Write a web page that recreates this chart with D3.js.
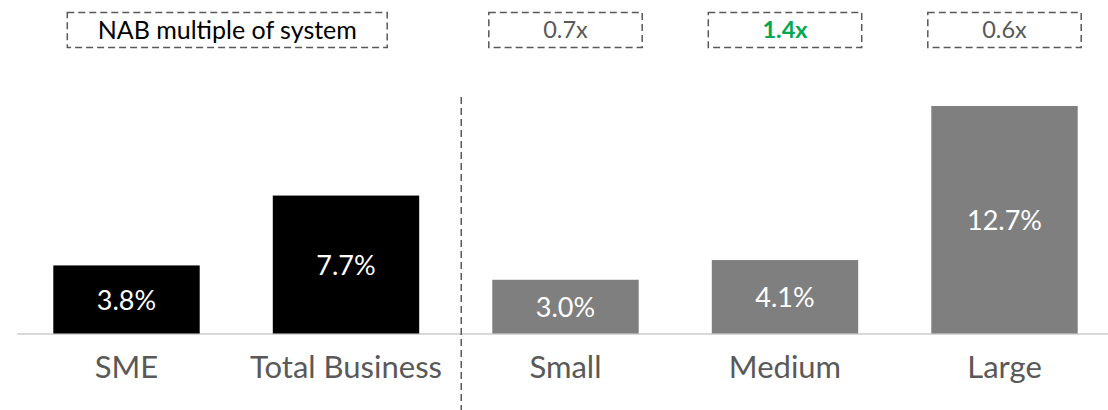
<!DOCTYPE html>
<html><head><meta charset="utf-8">
<script src="https://cdn.jsdelivr.net/npm/d3@7"></script>
<style>
html,body{margin:0;padding:0;background:#fff;}
svg{display:block;font-family:"Lato","Noto Sans",sans-serif;}
</style></head>
<body>
<svg id="c" width="1108" height="410"></svg>
<script>
const categories = ["SME","Total Business","Small","Medium","Large"];
const values = [3.8, 7.7, 3.0, 4.1, 12.7];
const valueLabels = ["3.8%","7.7%","3.0%","4.1%","12.7%"];
const barGroup = ["nab","nab","sys","sys","sys"];
const multipleTitle = "NAB multiple of system";
const multipleCats = ["Small","Medium","Large"];
const multipleLabels = ["0.7x","1.4x","0.6x"];
const multipleHighlight = [false,true,false];

const svg = d3.select("#c");
const W = 1108, H = 410;
const baseY = 333.5;

const x = d3.scaleBand().domain(categories).range([16.75, 1114.25]).paddingInner(0.333).paddingOuter(0.1665);
const y = d3.scaleLinear().domain([0, 12.7]).range([baseY, 106]);
const colors = {nab:"#000000", sys:"#7f7f7f"};

// baseline
svg.append("line").attr("x1",17).attr("x2",W).attr("y1",baseY+0.5).attr("y2",baseY+0.5)
  .attr("stroke","#d9d9d9").attr("stroke-width",2);

// bars
svg.selectAll("rect.bar").data(categories).join("rect").attr("class","bar")
  .attr("x", d=>x(d)).attr("width", x.bandwidth())
  .attr("y", (d,i)=>y(values[i])).attr("height",(d,i)=>baseY - y(values[i]))
  .attr("fill",(d,i)=>colors[barGroup[i]]);

// value labels
svg.selectAll("text.val").data(categories).join("text").attr("class","val")
  .attr("x", d=>x(d)+x.bandwidth()/2)
  .attr("y", (d,i)=>(y(values[i])+baseY)/2 + 1)
  .attr("dy","0.35em").attr("text-anchor","middle")
  .attr("fill","#fff").attr("font-size",27)
  .text((d,i)=>valueLabels[i]);

// category labels
svg.selectAll("text.cat").data(categories).join("text").attr("class","cat")
  .attr("x", d=>x(d)+x.bandwidth()/2).attr("y", 367)
  .attr("dy","0.35em").attr("text-anchor","middle")
  .attr("fill","#595959").attr("font-size",31)
  .text(d=>d);

// divider
const divX = x("Small") - x.step()*x.paddingInner()/2 + 5.5;
svg.append("line").attr("x1",divX).attr("x2",divX).attr("y1",97).attr("y2",H)
  .attr("stroke","#595959").attr("stroke-width",1.5).attr("stroke-dasharray","7,4");

// top boxes
const boxY = 12.5, boxH = 35;
const t0 = x("SME") + 14, t1 = x("Total Business") + x.bandwidth() - 32;
svg.append("rect").attr("x",t0).attr("y",boxY).attr("width",t1-t0).attr("height",boxH)
  .attr("fill","none").attr("stroke","#595959").attr("stroke-width",1.5).attr("stroke-dasharray","7,4");
svg.append("text").attr("x",(t0+t1)/2).attr("y",boxY+boxH/2).attr("dy","0.35em")
  .attr("text-anchor","middle").attr("font-size",25).attr("fill","#000").text(multipleTitle);

multipleCats.forEach((c,i)=>{
  const bx = x(c) - 3.5, bw = x.bandwidth() + 7;
  svg.append("rect").attr("x",bx).attr("y",boxY).attr("width",bw).attr("height",boxH)
    .attr("fill","none").attr("stroke","#595959").attr("stroke-width",1.5).attr("stroke-dasharray","7,4");
  svg.append("text").attr("x",bx+bw/2).attr("y",boxY+boxH/2).attr("dy","0.35em")
    .attr("text-anchor","middle").attr("font-size",23.5)
    .attr("font-weight", multipleHighlight[i] ? "bold" : "normal")
    .attr("fill", multipleHighlight[i] ? "#00a84f" : "#595959")
    .text(multipleLabels[i]);
});
</script>
</body></html>
